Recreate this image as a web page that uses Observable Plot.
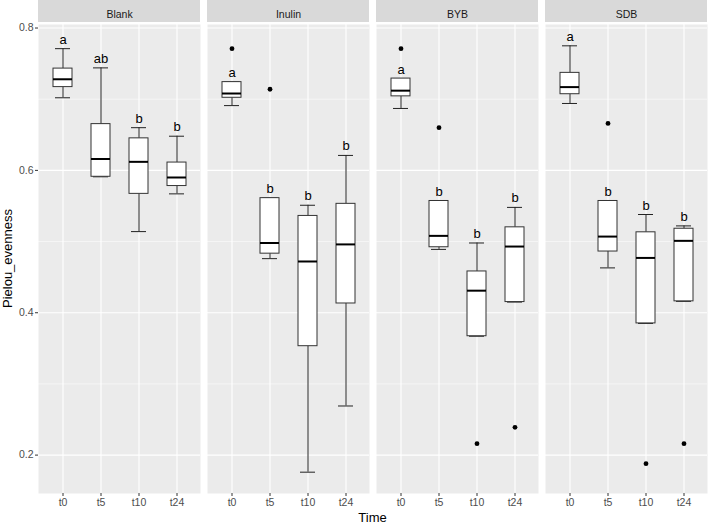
<!DOCTYPE html>
<html>
<head>
<meta charset="utf-8">
<script src="https://cdn.jsdelivr.net/npm/d3@7"></script>
<script src="https://cdn.jsdelivr.net/npm/@observablehq/plot@0.6"></script>
<style>
  html, body { margin: 0; padding: 0; background: #ffffff; }
  #chart svg { display: block; }
</style>
</head>
<body>
<div id="chart"></div>
<script>
// ---- data ----
const groups = ["Blank", "Inulin", "BYB", "SDB"];
const times = ["t0", "t5", "t10", "t24"];

// ordered group by group, times t0, t5, t10, t24
const lowerWhisker = [0.702, 0.591, 0.514, 0.567,  0.691, 0.476, 0.176, 0.269,  0.687, 0.489, 0.367, 0.415,  0.694, 0.463, 0.385, 0.416];
const q1Values     = [0.717, 0.591, 0.567, 0.578,  0.702, 0.483, 0.353, 0.413,  0.704, 0.492, 0.367, 0.415,  0.707, 0.486, 0.385, 0.416];
const medianValues = [0.728, 0.616, 0.612, 0.590,  0.708, 0.498, 0.472, 0.496,  0.712, 0.508, 0.431, 0.493,  0.717, 0.507, 0.477, 0.501];
const q3Values     = [0.743, 0.665, 0.645, 0.611,  0.724, 0.561, 0.536, 0.553,  0.729, 0.557, 0.458, 0.520,  0.737, 0.557, 0.513, 0.518];
const upperWhisker = [0.771, 0.744, 0.660, 0.648,  0.724, 0.561, 0.551, 0.621,  0.729, 0.557, 0.498, 0.548,  0.775, 0.557, 0.538, 0.522];
const letters      = ["a", "ab", "b", "b",  "a", "b", "b", "b",  "a", "b", "b", "b",  "a", "b", "b", "b"];

const outlierGroup = ["Inulin", "Inulin", "BYB", "BYB", "BYB", "BYB", "SDB", "SDB", "SDB"];
const outlierTime  = ["t0", "t5", "t0", "t5", "t10", "t24", "t5", "t10", "t24"];
const outlierValue = [0.771, 0.714, 0.771, 0.660, 0.216, 0.239, 0.666, 0.188, 0.216];

const yTicks = [0.2, 0.4, 0.6, 0.8];
const yMinorTicks = [0.3, 0.5, 0.7];

// ---- tables built from the arrays ----
const rows = [];
groups.forEach((g, gi) => times.forEach((t, ti) => {
  const i = gi * times.length + ti;
  rows.push({group: g, time: t, lower: lowerWhisker[i], q1: q1Values[i], median: medianValues[i],
             q3: q3Values[i], upper: upperWhisker[i], letter: letters[i]});
}));
const outliers = outlierValue.map((v, i) => ({group: outlierGroup[i], time: outlierTime[i], value: v}));

// y domain: data range expanded 5% each side (ggplot default)
const allVals = lowerWhisker.concat(upperWhisker, outlierValue);
const [ymin, ymax] = d3.extent(allVals);
const ypad = (ymax - ymin) * 0.05;

const W = 708, H = 525;
const mL = 38, mR = 1, mT = 24, mB = 32;
const panelGap = 7;
const panelW = (W - mL - mR - panelGap * (groups.length - 1)) / groups.length;
const step = panelW + panelGap;

const chart = Plot.plot({
  width: W,
  height: H,
  marginLeft: mL,
  marginRight: mR,
  marginTop: mT,
  marginBottom: mB,
  style: {fontFamily: "'Liberation Sans', Arial, sans-serif", fontSize: "10.5px", background: "#ffffff"},
  fx: {domain: groups, paddingInner: panelGap / step, paddingOuter: 0, axis: null},
  x: {domain: times, paddingInner: 0.5, paddingOuter: 0.35, axis: null},
  y: {domain: [ymin - ypad, ymax + ypad], axis: null},
  marks: [
    Plot.frame({fill: "#EBEBEB", stroke: null}),
    Plot.gridY({ticks: yMinorTicks, stroke: "#ffffff", strokeOpacity: 1, strokeWidth: 0.55}),
    Plot.gridY({ticks: yTicks, stroke: "#ffffff", strokeOpacity: 1, strokeWidth: 1.1}),
    Plot.gridX({stroke: "#ffffff", strokeOpacity: 1, strokeWidth: 1.1}),
    Plot.ruleX(rows, {x: "time", fx: "group", y1: "q3", y2: "upper", stroke: "#222", strokeWidth: 1}),
    Plot.ruleX(rows, {x: "time", fx: "group", y1: "lower", y2: "q1", stroke: "#222", strokeWidth: 1}),
    Plot.tickY(rows, {x: "time", fx: "group", y: "upper", insetLeft: 2, insetRight: 2, stroke: "#222", strokeWidth: 1}),
    Plot.tickY(rows, {x: "time", fx: "group", y: "lower", insetLeft: 2, insetRight: 2, stroke: "#222", strokeWidth: 1}),
    Plot.barY(rows, {x: "time", fx: "group", y1: "q1", y2: "q3", fill: "#ffffff", stroke: "#333333", strokeWidth: 1}),
    Plot.tickY(rows, {x: "time", fx: "group", y: "median", stroke: "#000000", strokeWidth: 2}),
    Plot.dot(outliers, {x: "time", fx: "group", y: "value", r: 2.4, fill: "#000000", stroke: null}),
    Plot.text(rows, {x: "time", fx: "group", y: "upper", text: "letter", lineAnchor: "bottom", dy: -5, fontSize: 13, fill: "#000000"}),
    Plot.axisY({ticks: yTicks, tickFormat: d3.format(".1f"), tickSize: 3, tickPadding: 2, stroke: "#333333", fill: "#4D4D4D", label: null}),
    Plot.axisX({tickSize: 3, tickPadding: 2, stroke: "#333333", fill: "#4D4D4D", label: null}),
    Plot.axisFx({anchor: "top", tickSize: 0, tickPadding: 7, fill: "#1A1A1A", label: null})
  ]
});

const svg = d3.select(chart);
// facet strips behind the fx labels, positioned with the fx scale
const fx = chart.scale("fx");
const stripG = svg.insert("g", ":first-child");
groups.forEach(g => {
  stripG.append("rect")
    .attr("x", fx.apply(g))
    .attr("y", 0)
    .attr("width", fx.bandwidth)
    .attr("height", mT - 2)
    .attr("fill", "#D9D9D9");
});
// axis titles
const yScale = chart.scale("y");
const yMid = (yScale.range[0] + yScale.range[1]) / 2;
svg.append("text")
  .attr("transform", `translate(9,${yMid}) rotate(-90)`)
  .attr("text-anchor", "middle")
  .attr("dominant-baseline", "middle")
  .attr("font-size", 13)
  .attr("fill", "#000")
  .text("Pielou_evenness");
svg.append("text")
  .attr("x", (mL + W - mR) / 2)
  .attr("y", H - 6)
  .attr("text-anchor", "middle")
  .attr("dominant-baseline", "middle")
  .attr("font-size", 13)
  .attr("fill", "#000")
  .text("Time");

document.getElementById("chart").appendChild(chart);
</script>
</body>
</html>
